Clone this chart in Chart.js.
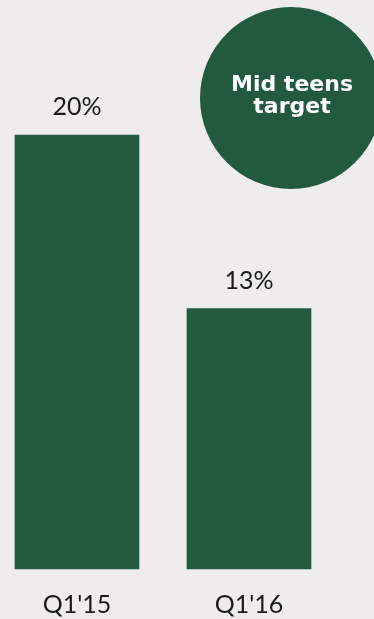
<!DOCTYPE html>
<html>
<head>
<meta charset="utf-8">
<script src="https://cdn.jsdelivr.net/npm/chart.js@4.4.0/dist/chart.umd.min.js"></script>
<style>
  html, body { margin: 0; padding: 0; background: #eeedeb; }
  #wrap { width: 374px; height: 619px; position: relative; }
</style>
</head>
<body>
<div id="wrap"><canvas id="bar"></canvas></div>
<script>
// quarters and margin values
let quarters = ["Q1'15", "Q1'16"];
let margins = [20, 13];
let barLabels = ["20%", "13%"];
let badgeText = ["Mid teens", "target"];

// value axis range (bars start at the floor, not at zero)
let axisFloor = 2.5;
let axisTop = 25;

let green = "#235a3f";

// percent labels above each bar
let valueLabels = {
  id: "valueLabels",
  afterDatasetsDraw(chart) {
    let ctx = chart.ctx;
    let meta = chart.getDatasetMeta(0);
    ctx.save();
    ctx.font = "25px Lato";
    ctx.fillStyle = "#1a1a1a";
    ctx.textAlign = "center";
    ctx.textBaseline = "alphabetic";
    meta.data.forEach(function(bar, i) {
      ctx.fillText(barLabels[i], bar.x, bar.y - 20);
    });
    ctx.restore();
  }
};

// round badge in the top right corner
let badge = {
  id: "badge",
  afterDraw(chart) {
    let ctx = chart.ctx;
    ctx.save();
    ctx.fillStyle = green;
    ctx.beginPath();
    ctx.arc(291, 98, 91, 0, Math.PI * 2);
    ctx.fill();
    ctx.fillStyle = "#ffffff";
    ctx.font = "bold 22px 'DejaVu Sans'";
    ctx.textAlign = "center";
    ctx.textBaseline = "alphabetic";
    ctx.fillText(badgeText[0], 292, 91);
    ctx.fillText(badgeText[1], 292, 113);
    ctx.restore();
  }
};

new Chart(document.getElementById("bar"), {
  type: "bar",
  data: {
    labels: quarters,
    datasets: [{
      data: margins,
      base: axisFloor,
      backgroundColor: green,
      barThickness: 124,
      clip: false
    }]
  },
  options: {
    responsive: true,
    maintainAspectRatio: false,
    animation: false,
    layout: { padding: { top: 11, left: 77, right: 125, bottom: 0 } },
    plugins: {
      legend: { display: false },
      tooltip: { enabled: false }
    },
    scales: {
      x: {
        offset: false,
        grid: { display: false, drawTicks: false },
        border: { display: false },
        ticks: {
          color: "#1a1a1a",
          font: { family: "Lato", size: 25 },
          padding: 21,
          maxRotation: 0,
          autoSkip: false
        },
        // keep the label strip a fixed height below the bars
        afterFit: function(scale) { scale.height = 50; }
      },
      y: {
        display: false,
        beginAtZero: false,
        min: axisFloor,
        max: axisTop
      }
    }
  },
  plugins: [valueLabels, badge]
});
</script>
</body>
</html>
